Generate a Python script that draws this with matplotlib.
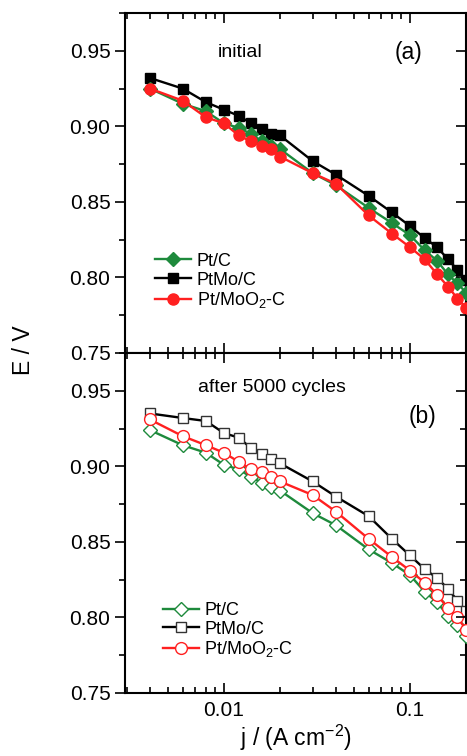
import numpy as np
import matplotlib
matplotlib.use("Agg")
import matplotlib.pyplot as plt
from matplotlib.ticker import LogLocator, MultipleLocator, FixedLocator, NullFormatter

plt.rcParams['font.family'] = ['Liberation Sans', 'DejaVu Sans']
plt.rcParams['mathtext.fontset'] = 'custom'
plt.rcParams['mathtext.rm'] = 'Liberation Sans'

# === data ===
j = [0.004, 0.006, 0.008, 0.01, 0.012, 0.014, 0.016, 0.018, 0.02,
     0.03, 0.04, 0.06, 0.08, 0.1, 0.12, 0.14, 0.16, 0.18, 0.2]

# (a) initial
ptc_init = [0.925, 0.915, 0.910, 0.902, 0.899, 0.895, 0.890, 0.887, 0.885,
            0.869, 0.861, 0.846, 0.836, 0.828, 0.818, 0.811, 0.802, 0.796, 0.790]
ptmo_init = [0.932, 0.925, 0.916, 0.911, 0.907, 0.902, 0.898, 0.895, 0.894,
             0.877, 0.868, 0.854, 0.843, 0.834, 0.826, 0.820, 0.812, 0.805, 0.798]
ptmoo2_init = [0.925, 0.917, 0.906, 0.902, 0.894, 0.890, 0.887, 0.885, 0.880,
               0.869, 0.862, 0.841, 0.829, 0.820, 0.812, 0.802, 0.794, 0.786, 0.780]

# (b) after 5000 cycles
ptc_aged = [0.924, 0.914, 0.909, 0.901, 0.898, 0.893, 0.889, 0.886, 0.884,
            0.869, 0.861, 0.845, 0.836, 0.828, 0.817, 0.810, 0.801, 0.795, 0.788]
ptmo_aged = [0.935, 0.932, 0.930, 0.922, 0.919, 0.912, 0.908, 0.905, 0.902,
             0.890, 0.880, 0.867, 0.852, 0.841, 0.832, 0.826, 0.819, 0.811, 0.804]
ptmoo2_aged = [0.931, 0.920, 0.914, 0.909, 0.903, 0.898, 0.896, 0.893, 0.890,
               0.881, 0.870, 0.852, 0.840, 0.831, 0.823, 0.815, 0.806, 0.800, 0.792]

labels = ["Pt/C", "PtMo/C", "Pt/MoO$_2$-C"]
green = "#1e8a3c"
red = "#ff2020"
black = "#000000"

fig = plt.figure(figsize=(4.67, 7.56), dpi=100)
L, W = 125 / 467, 341 / 467
ax1 = fig.add_axes([L, 1 - 353 / 756, W, 340 / 756])
ax2 = fig.add_axes([L, 1 - 693 / 756, W, 340 / 756])


def style_axes(ax, show_xlabels):
    ax.set_xscale("log")
    ax.set_xlim(0.00294, 0.2)
    ax.set_ylim(0.75, 0.975)
    for s in ax.spines.values():
        s.set_linewidth(1.5)
    ax.yaxis.set_major_locator(FixedLocator([0.75, 0.80, 0.85, 0.90, 0.95]))
    ax.yaxis.set_minor_locator(MultipleLocator(0.025))
    ax.yaxis.set_major_formatter(matplotlib.ticker.FormatStrFormatter("%.2f"))
    ax.xaxis.set_major_locator(LogLocator(base=10, numticks=10))
    ax.xaxis.set_minor_locator(LogLocator(base=10, subs=np.arange(2, 10), numticks=20))
    ax.xaxis.set_minor_formatter(NullFormatter())
    ax.xaxis.set_major_formatter(matplotlib.ticker.FuncFormatter(lambda v, p: f"{v:g}"))
    ax.tick_params(axis="x", which="both", direction="in", top=True, bottom=True,
                   labelsize=15, width=1.2, labelbottom=show_xlabels, pad=6)
    ax.tick_params(axis="x", which="major", length=7)
    ax.tick_params(axis="x", which="minor", length=4)
    ax.tick_params(axis="y", which="both", direction="out", right=False,
                   labelsize=15, width=1.2)
    ax.tick_params(axis="y", which="major", length=7)
    ax.tick_params(axis="y", which="minor", length=4)
    # right side ticks point inwards
    tw = ax.twinx()
    tw.set_ylim(ax.get_ylim())
    tw.yaxis.set_major_locator(FixedLocator([0.75, 0.80, 0.85, 0.90, 0.95]))
    tw.yaxis.set_minor_locator(MultipleLocator(0.025))
    tw.tick_params(axis="y", which="both", direction="in", labelright=False, width=1.2)
    tw.tick_params(axis="y", which="major", length=7)
    tw.tick_params(axis="y", which="minor", length=4)
    for s in tw.spines.values():
        s.set_visible(False)


style_axes(ax1, False)
style_axes(ax2, True)

# === (a) filled markers ===
ax1.plot(j, ptc_init, "-D", color=green, lw=1.7, ms=7, label=labels[0], zorder=3)
ax1.plot(j, ptmo_init, "-s", color=black, lw=1.7, ms=7, label=labels[1], zorder=2)
ax1.plot(j, ptmoo2_init, "-o", color=red, lw=1.7, ms=8, label=labels[2], zorder=4)

# === (b) open markers ===
ax2.plot(j, ptc_aged, "-D", color=green, lw=1.7, ms=7, mfc="white", mew=1.0,
         label=labels[0], zorder=3)
ax2.plot(j, ptmo_aged, "-s", color=black, lw=1.7, ms=7.5, mfc="white", mew=1.0,
         mec="#333333", label=labels[1], zorder=2)
ax2.plot(j, ptmoo2_aged, "-o", color=red, lw=1.7, ms=8.5, mfc="white", mew=1.0,
         label=labels[2], zorder=4)

leg_kw = dict(frameon=False, fontsize=13, handlelength=2.0, handletextpad=0.3,
              labelspacing=0.1, borderpad=0, borderaxespad=0, loc="upper left")
ax1.legend(bbox_to_anchor=(0.088, 0.295), **leg_kw)
ax2.legend(bbox_to_anchor=(0.111, 0.268), **leg_kw)

ax1.text(0.337, 0.885, "initial", transform=ax1.transAxes, fontsize=14,
         ha="center", va="center")
ax1.text(0.83, 0.885, "(a)", transform=ax1.transAxes, fontsize=16.5,
         ha="center", va="center")
ax2.text(0.431, 0.9, "after 5000 cycles", transform=ax2.transAxes, fontsize=14,
         ha="center", va="center")
ax2.text(0.871, 0.812, "(b)", transform=ax2.transAxes, fontsize=16.5,
         ha="center", va="center")

ax2.set_xlabel("j / (A cm$^{-2}$)", fontsize=16.5, labelpad=2)
fig.text(24 / 467, 1 - 350 / 756, "E / V", rotation=90, fontsize=16.5,
         ha="center", va="center")

fig.savefig("out.png", dpi=100)
